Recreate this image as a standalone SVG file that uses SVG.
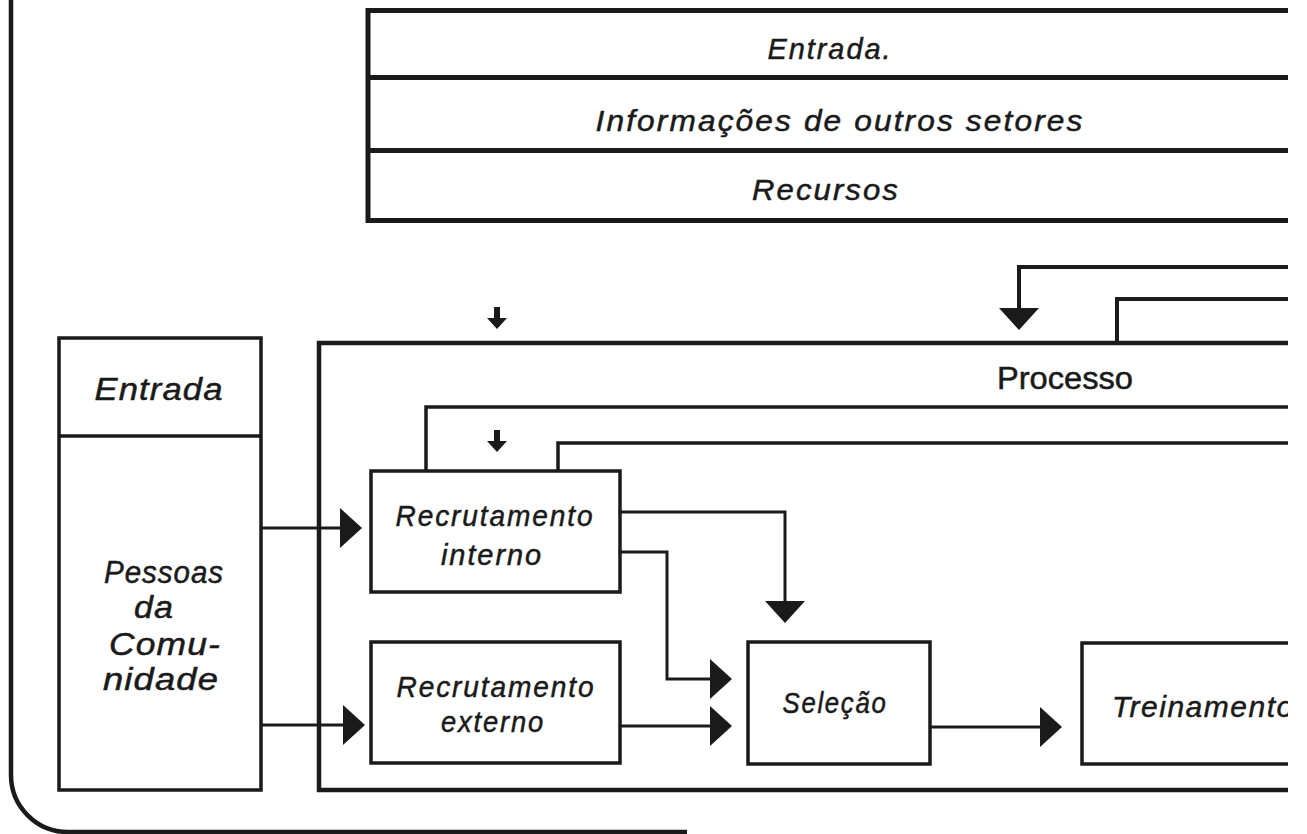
<svg xmlns="http://www.w3.org/2000/svg" xmlns:xlink="http://www.w3.org/1999/xlink" width="1307" height="834" viewBox="0 0 1307 834">
  <style>
    .frame { fill: none; stroke: #1a1a1a; stroke-width: 4.5; }
    .tbl { fill: none; stroke: #1a1a1a; stroke-width: 5; }
    .box { fill: none; stroke: #1a1a1a; stroke-width: 3.5; }
    .fb { fill: none; stroke: #1a1a1a; stroke-width: 4; }
    .wire { fill: none; stroke: #1a1a1a; stroke-width: 3; }
    .head { fill: #1a1a1a; stroke: none; }
    .lbl { font-family: "Liberation Sans", Arial, Helvetica, sans-serif; font-style: italic; font-size: 30px; letter-spacing: 2px; fill: #1a1a1a; text-anchor: middle; stroke: #1a1a1a; stroke-width: 0.5; }
    .big { font-size: 31px; letter-spacing: 1px; }
    .plain { font-family: "Liberation Sans", Arial, Helvetica, sans-serif; font-size: 31px; fill: #1a1a1a; text-anchor: middle; stroke: #1a1a1a; stroke-width: 0.5; }
  </style>
  <defs>
    <clipPath id="page">
      <rect x="0" y="0" width="1288" height="834"/>
    </clipPath>
    <!-- solid arrowheads, tip at the origin -->
    <polygon id="ah-right" class="head" points="-22,-20 0,0 -22,20"/>
    <polygon id="ah-down" class="head" points="-20,-22 0,0 20,-22"/>
    <!-- small downward marker arrow, tip at the origin -->
    <path id="tick-down" class="head" d="M -3 -22 H 3 V -11 H 10 L 0 0 L -10 -11 H -3 Z"/>
  </defs>

  <rect width="1307" height="834" fill="#ffffff"/>

  <g clip-path="url(#page)">
    <!-- outer system boundary -->
    <path id="boundary" class="frame" d="M 11 0 V 775 A 57 57 0 0 0 68 832 H 687"/>

    <!-- inputs table -->
    <g id="inputs">
      <path class="tbl" d="M 1290 10.5 H 368 V 220.5 H 1290 M 368 77.5 H 1290 M 368 150.5 H 1290"/>
      <text class="lbl" x="830" y="59" textLength="125" lengthAdjust="spacingAndGlyphs">Entrada.</text>
      <text class="lbl" x="840" y="131" textLength="489" lengthAdjust="spacingAndGlyphs">Informações de outros setores</text>
      <text class="lbl" x="826" y="200" textLength="148" lengthAdjust="spacingAndGlyphs">Recursos</text>
    </g>

    <!-- process container -->
    <g id="processo">
      <path class="frame" d="M 1290 343 H 319 V 790 H 1290"/>
      <text class="plain" x="1065" y="389" textLength="136" lengthAdjust="spacingAndGlyphs">Processo</text>
      <use xlink:href="#tick-down" x="497" y="329"/>
      <use xlink:href="#tick-down" x="497" y="452"/>
    </g>

    <!-- entry column -->
    <g id="entrada">
      <rect class="box" x="59" y="338" width="202" height="452"/>
      <line class="box" x1="59" y1="436" x2="261" y2="436"/>
      <text class="lbl big" x="159" y="400" textLength="129" lengthAdjust="spacingAndGlyphs">Entrada</text>
      <text class="lbl big" x="164" y="583" textLength="120" lengthAdjust="spacingAndGlyphs">Pessoas</text>
      <text class="lbl big" x="154" y="618" textLength="40" lengthAdjust="spacingAndGlyphs">da</text>
      <text class="lbl big" x="165" y="655" textLength="112" lengthAdjust="spacingAndGlyphs">Comu-</text>
      <text class="lbl big" x="161" y="690" textLength="116" lengthAdjust="spacingAndGlyphs">nidade</text>
    </g>

    <g id="recrutamento-interno">
      <rect class="box" x="371" y="471" width="249" height="121"/>
      <text class="lbl" x="495" y="526" textLength="199" lengthAdjust="spacingAndGlyphs">Recrutamento</text>
      <text class="lbl" x="492" y="565" textLength="102" lengthAdjust="spacingAndGlyphs">interno</text>
    </g>

    <g id="recrutamento-externo">
      <rect class="box" x="371" y="642" width="249" height="121"/>
      <text class="lbl" x="496" y="697" textLength="199" lengthAdjust="spacingAndGlyphs">Recrutamento</text>
      <text class="lbl" x="493" y="732" textLength="104" lengthAdjust="spacingAndGlyphs">externo</text>
    </g>

    <g id="selecao">
      <rect class="box" x="748" y="642" width="182" height="122"/>
      <text class="lbl" x="835" y="713" textLength="105" lengthAdjust="spacingAndGlyphs">Seleção</text>
    </g>

    <!-- the training stage continues past the right edge of the sheet -->
    <g id="treinamento">
      <path class="box" d="M 1290 643 H 1082 V 764 H 1290"/>
      <text class="lbl" x="1112" y="717" style="text-anchor:start;letter-spacing:1.5px">Treinamento</text>
    </g>

    <!-- connectors -->
    <g id="connectors">
      <!-- feedback from later stages -->
      <path class="fb" d="M 1290 267 H 1019 V 310"/>
      <use xlink:href="#ah-down" x="1019" y="330"/>
      <path class="fb" d="M 1290 299 H 1117 V 343"/>
      <path class="wire" style="stroke-width:3.5" d="M 1290 407 H 426 V 471"/>
      <path class="wire" style="stroke-width:3.5" d="M 1290 443 H 558 V 471"/>

      <!-- forward flow -->
      <path class="wire" d="M 261 528 H 345"/>
      <use xlink:href="#ah-right" x="362" y="528"/>
      <path class="wire" d="M 261 725 H 348"/>
      <use xlink:href="#ah-right" x="365" y="725"/>

      <path class="wire" d="M 620 512 H 785 V 606"/>
      <use xlink:href="#ah-down" x="785" y="623"/>
      <path class="wire" d="M 620 552 H 667 V 679 H 716"/>
      <use xlink:href="#ah-right" x="732" y="679"/>
      <path class="wire" d="M 620 726 H 716"/>
      <use xlink:href="#ah-right" x="732" y="726"/>

      <path class="wire" d="M 930 727 H 1046"/>
      <use xlink:href="#ah-right" x="1062" y="727"/>
    </g>
  </g>
</svg>
